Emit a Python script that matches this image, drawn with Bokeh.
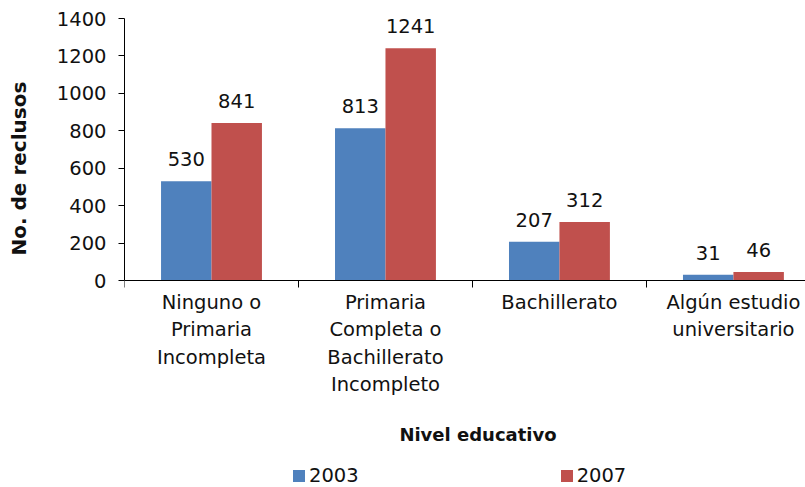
from bokeh.plotting import figure
from bokeh.models import (ColumnDataSource, Range1d, FixedTicker, LabelSet, Label, Legend, LegendItem, Title)
from bokeh.core.properties import value
from bokeh.embed import file_html
from bokeh.resources import INLINE
import numpy as np

categories = ["Ninguno o\nPrimaria\nIncompleta",
              "Primaria\nCompleta o\nBachillerato\nIncompleto",
              "Bachillerato",
              "Algún estudio\nuniversitario"]
years = ["2003", "2007"]
values_2003 = [530, 813, 207, 31]
values_2007 = [841, 1241, 312, 46]
y_ticks = [0, 200, 400, 600, 800, 1000, 1200, 1400]
colors = ["#4F81BD", "#C0504D"]

FONT = "DejaVu Sans"
FS = "19.5px"
TXT = "#111111"

centers = np.arange(len(categories)) + 0.5
offset = 0.145
bw = 0.29

# frame spans the whole drawing height; value 0 sits 262 px below 1400
y_max = 1400
y_min = y_max - 469 * y_max / 262

p = figure(frame_width=682, frame_height=469, output_backend="svg", toolbar_location=None,
           x_range=Range1d(0, 3.92), y_range=Range1d(y_min, y_max),
           min_border_left=115, min_border_right=0, min_border_top=18, min_border_bottom=0)
p.outline_line_color = None
p.xgrid.grid_line_color = None
p.ygrid.grid_line_color = None
p.background_fill_color = "white"

src_a = ColumnDataSource(dict(x=centers - offset, top=values_2003, lab=[str(v) for v in values_2003]))
src_b = ColumnDataSource(dict(x=centers + offset, top=values_2007, lab=[str(v) for v in values_2007]))
ra = p.vbar(x="x", top="top", width=bw, source=src_a, fill_color=colors[0], line_color=None)
rb = p.vbar(x="x", top="top", width=bw, source=src_b, fill_color=colors[1], line_color=None)

for s in (src_a, src_b):
    p.add_layout(LabelSet(x="x", y="top", text="lab", source=s, text_align="center",
                          text_baseline="alphabetic", y_offset=15, text_font=value(FONT),
                          text_font_size=FS, text_color=TXT))

# y axis
ya = p.yaxis[0]
ya.ticker = FixedTicker(ticks=y_ticks)
ya.bounds = (0, y_max)
ya.major_tick_out = 6
ya.major_tick_in = 0
ya.minor_tick_line_color = None
ya.axis_line_color = "black"
ya.major_tick_line_color = "black"
ya.major_label_text_font = FONT
ya.major_label_text_font_size = FS
ya.major_label_text_color = TXT
ya.major_label_standoff = 12
ya.axis_label = "\u00a0"
ya.axis_label_text_font_size = "2px"
ya.axis_label_standoff = 13

p.add_layout(Title(text="No. de reclusos", text_font=FONT, text_font_style="bold",
                   text_font_size="20px", text_color=TXT, align="left", offset=232,
                   standoff=9), "left")

# x axis drawn at value 0
xa = p.xaxis[0]
xa.fixed_location = 0
xa.ticker = FixedTicker(ticks=list(centers), minor_ticks=list(np.arange(len(categories) + 1)))
xa.major_label_overrides = {float(c): lab for c, lab in zip(centers, categories)}
xa.major_tick_line_color = None
xa.minor_tick_line_color = "black"
xa.minor_tick_out = 7
xa.minor_tick_in = 0
xa.axis_line_color = "black"
xa.major_label_text_font = FONT
xa.major_label_text_font_size = FS
xa.major_label_text_color = TXT
xa.major_label_standoff = 3

p.add_layout(Label(x=1.58, y=-823, text="Nivel educativo", text_font=FONT,
                   text_font_style="bold", text_font_size="18px", text_color=TXT,
                   text_align="left", text_baseline="middle"))

legend = Legend(items=[LegendItem(label=years[0], renderers=[ra]),
                       LegendItem(label=years[1], renderers=[rb])],
                orientation="horizontal", location=(167, 0),
                glyph_width=15, glyph_height=15, label_standoff=3, spacing=200,
                label_text_font=FONT, label_text_font_size=FS, label_text_color=TXT,
                border_line_color=None, background_fill_alpha=0, padding=0, margin=0)
p.add_layout(legend, "center")

open("out.html", "w").write(file_html(p, INLINE))
